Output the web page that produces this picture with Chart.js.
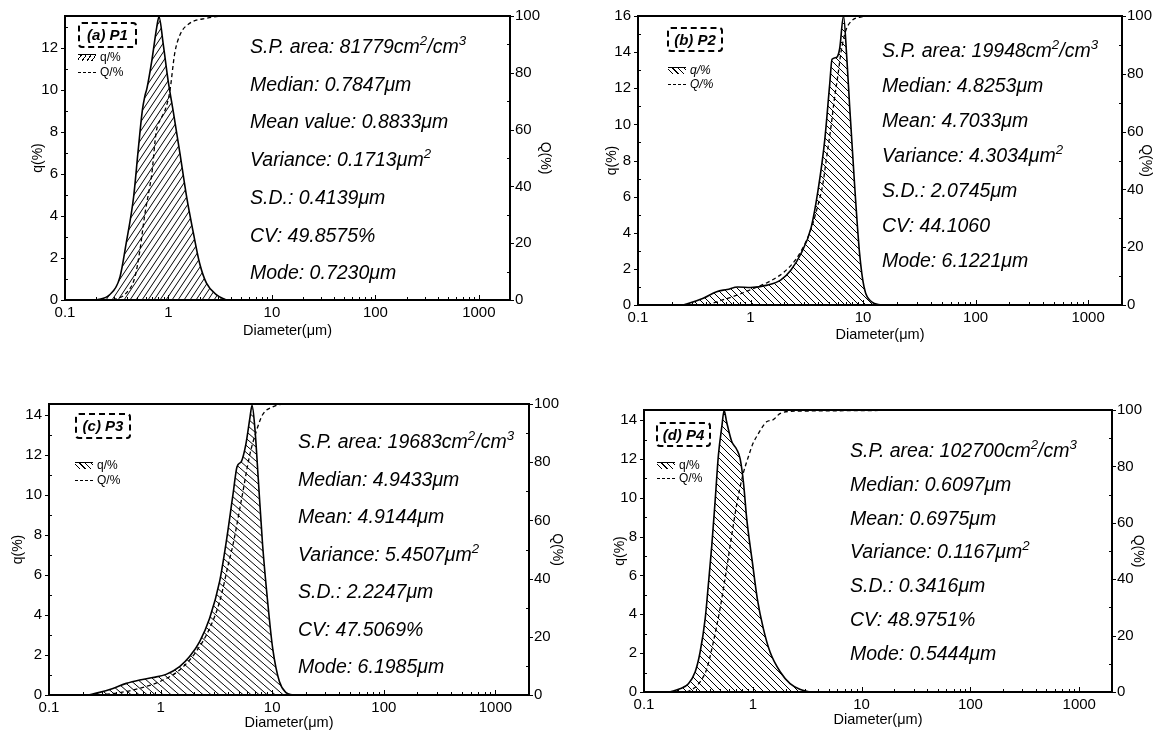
<!DOCTYPE html>
<html>
<head>
<meta charset="utf-8">
<script src="https://cdn.jsdelivr.net/npm/chart.js@4.4.1/dist/chart.umd.min.js"></script>
<style>
  html, body { margin: 0; padding: 0; background: #fff; }
  body { width: 1158px; height: 736px; position: relative; overflow: hidden;
         font-family: "Liberation Sans", Arial, sans-serif; color: #000; }
  .panel { position: absolute; }
  .tag { position: absolute; border: 2px dashed #000; border-radius: 4px; box-sizing: border-box;
         font: bold italic 15px "Liberation Sans", Arial, sans-serif; text-align: center; }
  .key { position: absolute; font-size: 12px; line-height: 14px; white-space: nowrap; }
  .key span { display: inline-block; width: 18px; margin-right: 4px; vertical-align: middle; }
  .key .area { height: 6px; border-top: 1.5px solid #000; }
  .key .dash { height: 0; border-top: 1.5px dashed #000; }
  .stat { position: absolute; font-style: italic; font-size: 19.5px; line-height: 20px; white-space: nowrap; }
  .stat sup { font-size: 0.68em; vertical-align: 0; position: relative; top: -0.6em; }
</style>
</head>
<body>
<script>
// particle size distributions: frequency q(%) and cumulative Q(%) vs diameter (µm)
const xTicks = [0.1, 1, 10, 100, 1000];

const sizeP1 = [0.2, 0.27, 0.34, 0.39, 0.46, 0.51, 0.56, 0.59, 0.62, 0.69, 0.77, 0.81, 0.89, 0.99, 1.12, 1.29, 1.5, 1.74, 2.0, 2.33, 2.92, 3.6];
const qP1 = [0, 0.25, 1.1, 2.7, 4.9, 7.15, 9.06, 9.7, 10.1, 11.4, 13.0, 13.5, 12.2, 10.5, 8.9, 7.0, 4.9, 3.2, 1.75, 0.8, 0.24, 0];
const cumSizeP1 = [0.29, 0.39, 0.475, 0.53, 0.59, 0.66, 0.69, 0.76, 0.85, 0.93, 1.03, 1.15, 1.29, 1.6, 2.33, 3.5, 2000];
const cumP1 = [0, 2.4, 8.2, 17.6, 30, 40, 44.3, 59, 64, 67, 73.4, 86.9, 93.3, 97.4, 99.2, 100, 100];

const sizeP2 = [0.25, 0.27, 0.38, 0.5, 0.62, 0.77, 1.0, 1.41, 1.85, 2.28, 2.81, 3.46, 3.97, 4.56, 5.05, 5.3, 5.8, 6.2, 6.7, 7.2, 7.6, 8.4, 9.3, 10.2, 11.9, 14.5];
const qP2 = [0, 0.05, 0.37, 0.74, 0.86, 1.0, 0.97, 1.1, 1.38, 1.93, 2.85, 4.3, 6.3, 9.1, 12.2, 13.6, 13.7, 14.2, 16.0, 13.5, 11.0, 6.7, 2.9, 1.0, 0.18, 0];
const cumSizeP2 = [0.41, 0.54, 0.76, 1.0, 1.5, 2.0, 2.5, 2.8, 3.2, 3.5, 4.0, 4.4, 4.7, 5.2, 5.55, 6.0, 6.4, 7.0, 7.9, 9.7, 12, 2000];
const cumP2 = [0, 1.5, 3.4, 5.3, 8.3, 11.5, 15.5, 18.5, 23, 27, 35, 42, 50, 62, 71, 80, 88, 94.8, 98.3, 99.7, 100, 100];

const sizeP3 = [0.223, 0.284, 0.374, 0.493, 0.65, 0.85, 1.12, 1.48, 1.82, 2.24, 2.75, 3.38, 3.88, 4.45, 4.84, 5.3, 5.8, 6.3, 6.6, 7.0, 7.5, 8.2, 9.1, 10.1, 11.6, 13.3, 15.3];
const qP3 = [0, 0.13, 0.33, 0.58, 0.75, 0.87, 1.03, 1.42, 1.92, 2.67, 3.83, 5.67, 7.67, 10, 11.4, 11.67, 12.5, 13.8, 14.47, 13.3, 10.8, 7.5, 4.67, 2.33, 0.67, 0.12, 0];
const cumSizeP3 = [0.28, 0.43, 0.65, 0.98, 1.48, 2.08, 2.75, 3.38, 4.1, 4.45, 5.4, 6.3, 7.2, 8.2, 10.1, 13.3, 2000];
const cumP3 = [0, 0.8, 2.3, 4.6, 8.6, 14.9, 22.9, 32.1, 45.9, 51.6, 68.8, 82.6, 90.6, 96.3, 99, 100, 100];

const sizeP4 = [0.173, 0.214, 0.256, 0.295, 0.328, 0.365, 0.39, 0.42, 0.45, 0.483, 0.52, 0.545, 0.575, 0.64, 0.71, 0.765, 0.82, 0.88, 0.99, 1.1, 1.25, 1.44, 1.79, 2.2, 2.7, 3.37];
const qP4 = [0, 0.17, 0.43, 1.03, 2.06, 3.78, 5.5, 7.56, 9.8, 12.2, 13.7, 14.5, 13.9, 12.9, 12.5, 12.0, 10.8, 8.9, 6.7, 4.8, 3.26, 2.06, 1.03, 0.43, 0.14, 0];
const cumSizeP4 = [0.247, 0.284, 0.328, 0.378, 0.434, 0.5, 0.575, 0.64, 0.71, 0.81, 0.91, 1.0, 1.1, 1.35, 1.53, 1.79, 2.5, 2000];
const cumP4 = [0, 1.2, 3.6, 8.3, 17.8, 29.6, 43.8, 55.6, 66.3, 77, 83.4, 88, 91, 95.9, 96.5, 98.8, 99.6, 100];

const qAxisMax = [13.54, 16, 14.53, 14.52];

const statsP1 = ['S.P. area: 81779cm^2/cm^3', 'Median: 0.7847μm', 'Mean value: 0.8833μm', 'Variance: 0.1713μm^2', 'S.D.: 0.4139μm', 'CV: 49.8575%', 'Mode: 0.7230μm'];
const statsP2 = ['S.P. area: 19948cm^2/cm^3', 'Median: 4.8253μm', 'Mean: 4.7033μm', 'Variance: 4.3034μm^2', 'S.D.: 2.0745μm', 'CV: 44.1060', 'Mode: 6.1221μm'];
const statsP3 = ['S.P. area: 19683cm^2/cm^3', 'Median: 4.9433μm', 'Mean: 4.9144μm', 'Variance: 5.4507μm^2', 'S.D.: 2.2247μm', 'CV: 47.5069%', 'Mode: 6.1985μm'];
const statsP4 = ['S.P. area: 102700cm^2/cm^3', 'Median: 0.6097μm', 'Mean: 0.6975μm', 'Variance: 0.1167μm^2', 'S.D.: 0.3416μm', 'CV: 48.9751%', 'Mode: 0.5444μm'];

const FONT = '"Liberation Sans", Arial, sans-serif';

// box = canvas rect on the page, area = wanted plot frame (l, t, r, b)
const panels = [
  { tag: '(a) P1', size: sizeP1, q: qP1, cumSize: cumSizeP1, cum: cumP1, qMax: qAxisMax[0], stats: statsP1,
    box: [0, 0, 575, 365], area: [65, 16, 510, 300], leftW: 39, rightW: 47, bottomH: 44,
    hatch: { w: 6, h: 9, dir: 1 }, tagBox: [78, 22, 59, 26], key: [78, 57, 72], keyItalic: false,
    statX: 250, statY: 46, statGap: 37.7 },
  { tag: '(b) P2', size: sizeP2, q: qP2, cumSize: cumSizeP2, cum: cumP2, qMax: qAxisMax[1], stats: statsP2,
    box: [575, 0, 583, 365], area: [638, 15, 1122, 305], leftW: 38, rightW: 36, bottomH: 43,
    hatch: { w: 7, h: 7, dir: -1 }, tagBox: [667, 27, 56, 25], key: [668, 70, 84], keyItalic: true,
    statX: 882, statY: 50, statGap: 35 },
  { tag: '(c) P3', size: sizeP3, q: qP3, cumSize: cumSizeP3, cum: cumP3, qMax: qAxisMax[2], stats: statsP3,
    box: [0, 370, 575, 366], area: [49, 404, 529, 695], leftW: 43, rightW: 40, bottomH: 41,
    hatch: { w: 8, h: 7, dir: -1 }, tagBox: [75, 413, 56, 26], key: [75, 465, 480], keyItalic: false,
    statX: 298, statY: 441, statGap: 37.5 },
  { tag: '(d) P4', size: sizeP4, q: qP4, cumSize: cumSizeP4, cum: cumP4, qMax: qAxisMax[3], stats: statsP4,
    box: [575, 370, 583, 366], area: [644, 410, 1112, 692], leftW: 36, rightW: 38, bottomH: 41,
    hatch: { w: 7, h: 7, dir: -1 }, tagBox: [656, 422, 55, 25], key: [657, 465, 478], keyItalic: false,
    statX: 850, statY: 450, statGap: 33.8 }
];

function hatchPattern(ctx, { w, h, dir }) {
  const tile = document.createElement('canvas');
  tile.width = w;
  tile.height = h;
  const t = tile.getContext('2d');
  t.strokeStyle = '#000';
  t.lineWidth = 1;
  t.beginPath();
  for (let k = -1; k <= 1; k++) {
    if (dir > 0) { t.moveTo(k * w, h); t.lineTo(k * w + w, 0); }
    else { t.moveTo(k * w, 0); t.lineTo(k * w + w, h); }
  }
  t.stroke();
  return ctx.createPattern(tile, 'repeat');
}

// frame box plus the inward/outward tick marks, placed from the chart's own scales
const frameTicks = {
  id: 'frameTicks',
  afterDraw(chart) {
    const { ctx, chartArea: a, scales } = chart;
    ctx.save();
    ctx.strokeStyle = '#000';
    ctx.lineWidth = 1;
    ctx.beginPath();
    scales.y.ticks.forEach(t => {
      const py = Math.round(scales.y.getPixelForValue(t.value)) + 0.5;
      if (t.value % 2 === 0) { ctx.moveTo(a.left - 4, py); ctx.lineTo(a.left, py); }
      else { ctx.moveTo(a.left, py); ctx.lineTo(a.left + 3, py); }
    });
    scales.y2.ticks.forEach(t => {
      const py = Math.round(scales.y2.getPixelForValue(t.value)) + 0.5;
      if (t.value % 20 === 0) { ctx.moveTo(a.right, py); ctx.lineTo(a.right + 4, py); }
      else { ctx.moveTo(a.right - 3, py); ctx.lineTo(a.right, py); }
    });
    const xs = scales.x;
    for (let e = -1; e <= 3; e++) {
      for (let k = 1; k <= 9; k++) {
        const v = k * Math.pow(10, e);
        if (v > xs.max) break;
        const px = Math.round(xs.getPixelForValue(v)) + 0.5;
        ctx.moveTo(px, a.bottom);
        ctx.lineTo(px, a.bottom - (k === 1 ? 5 : 3));
      }
    }
    ctx.stroke();
    ctx.lineWidth = 2;
    ctx.strokeRect(a.left, a.top, a.right - a.left, a.bottom - a.top);
    ctx.restore();
  }
};

function decadeLabel(v) {
  const hit = xTicks.find(t => Math.abs(t - v) < t * 1e-6);
  return hit === undefined ? '' : String(hit);
}

function addHtml(cls, x, y, html, extra) {
  const el = document.createElement('div');
  el.className = cls;
  el.style.left = x + 'px';
  el.style.top = y + 'px';
  if (extra) Object.assign(el.style, extra);
  el.innerHTML = html;
  document.body.appendChild(el);
  return el;
}

panels.forEach(p => {
  const [bx, by, bw, bh] = p.box;
  const [l, t, r, b] = p.area;
  const holder = document.createElement('div');
  holder.className = 'panel';
  Object.assign(holder.style, { left: bx + 'px', top: by + 'px', width: bw + 'px', height: bh + 'px' });
  const canvas = document.createElement('canvas');
  canvas.width = bw;
  canvas.height = bh;
  holder.appendChild(canvas);
  document.body.appendChild(holder);
  const ctx = canvas.getContext('2d');

  const tickFont = { family: FONT, size: 15 };
  const titleFont = { family: FONT, size: 14 };

  new Chart(ctx, {
    type: 'line',
    data: {
      datasets: [{
        label: 'q/%',
        data: p.size.map((d, i) => ({ x: d, y: p.q[i] })),
        yAxisID: 'y',
        borderColor: '#000',
        borderWidth: 1.6,
        backgroundColor: hatchPattern(ctx, p.hatch),
        fill: 'origin',
        pointRadius: 0,
        cubicInterpolationMode: 'monotone'
      }, {
        label: 'Q/%',
        data: p.cumSize.map((d, i) => ({ x: d, y: p.cum[i] })),
        yAxisID: 'y2',
        borderColor: '#000',
        borderWidth: 1.3,
        borderDash: [4, 3],
        fill: false,
        pointRadius: 0,
        cubicInterpolationMode: 'monotone'
      }]
    },
    options: {
      responsive: false,
      animation: false,
      layout: {
        padding: {
          left: l - bx - p.leftW,
          right: bx + bw - r - p.rightW,
          top: t - by,
          bottom: by + bh - b - p.bottomH
        }
      },
      plugins: { legend: { display: false }, tooltip: { enabled: false } },
      scales: {
        x: {
          type: 'logarithmic', position: 'bottom', min: 0.1, max: 2000,
          grid: { display: false, drawTicks: false }, border: { display: false },
          ticks: { autoSkip: false, maxRotation: 0, padding: 4, color: '#000', font: tickFont, callback: decadeLabel },
          title: { display: true, text: 'Diameter(μm)', color: '#000', font: { family: FONT, size: 14.5 }, padding: { top: 0, bottom: 4 } },
          afterFit: s => { s.height = p.bottomH; }
        },
        y: {
          type: 'linear', position: 'left', min: 0, max: p.qMax,
          grid: { display: false, drawTicks: false }, border: { display: false },
          ticks: { stepSize: 1, includeBounds: false, autoSkip: false, padding: 7, color: '#000', font: tickFont,
                   callback: v => (v % 2 === 0 ? String(v) : '') },
          title: { display: true, text: 'q(%)', color: '#000', font: titleFont },
          afterFit: s => { s.width = p.leftW; }
        },
        y2: {
          type: 'linear', position: 'right', min: 0, max: 100,
          grid: { display: false, drawTicks: false }, border: { display: false },
          ticks: { stepSize: 10, includeBounds: false, autoSkip: false, padding: 5, color: '#000', font: tickFont,
                   callback: v => (v % 20 === 0 ? String(v) : '') },
          title: { display: true, text: 'Q(%)', color: '#000', font: titleFont },
          afterFit: s => { s.width = p.rightW; }
        }
      }
    },
    plugins: [frameTicks]
  });

  // sample tag, key and the statistics block
  const [tx, ty, tw, th] = p.tagBox;
  addHtml('tag', tx, ty, p.tag, { width: tw + 'px', height: th + 'px', lineHeight: (th - 4) + 'px' });

  const [kx, ky1, ky2] = p.key;
  const hatchCss = p.hatch.dir > 0
    ? 'repeating-linear-gradient(-55deg, transparent 0 3px, #000 3px 4px)'
    : 'repeating-linear-gradient(45deg, transparent 0 3px, #000 3px 4px)';
  const ks = p.keyItalic ? { fontStyle: 'italic' } : null;
  addHtml('key', kx, ky1 - 7, '<span class="area" style="background:' + hatchCss + '"></span>q/%', ks);
  addHtml('key', kx, ky2 - 7, '<span class="dash"></span>Q/%', ks);

  p.stats.forEach((s, i) => {
    const html = s.replace(/\^(\d)/g, '<sup>$1</sup>');
    addHtml('stat', p.statX, Math.round(p.statY + i * p.statGap - 10), html);
  });
});
</script>
</body>
</html>
